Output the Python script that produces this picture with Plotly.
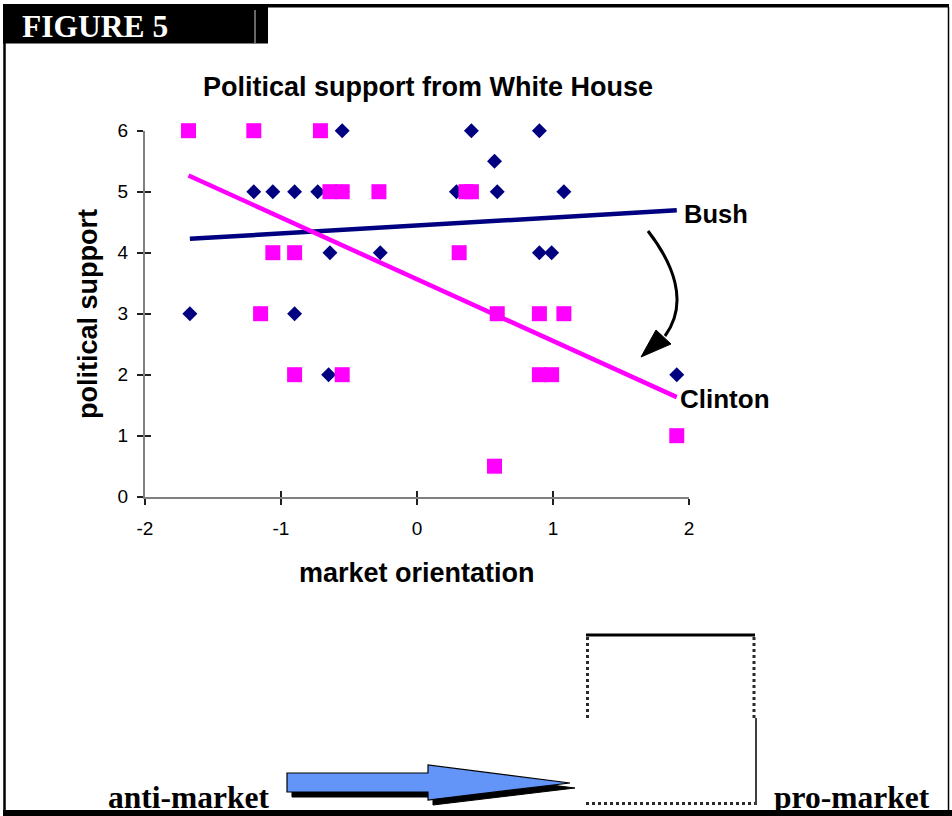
import numpy as np
import plotly.graph_objects as go

W, H = 952, 816

# Market orientation (x) and political support (y) for each administration
bush_x = [-1.67, -1.20, -1.06, -0.90, -0.90, -0.73, -0.64, -0.65, -0.55, -0.27,
          0.29, 0.40, 0.57, 0.59, 0.90, 0.90, 0.99, 1.08, 1.91, -1.15, -0.55, 0.37]
bush_y = [3, 5, 5, 5, 3, 5, 4, 2, 6, 4,
          5, 6, 5.5, 5, 6, 4, 4, 5, 2, 3, 5, 5]

clinton_x = [-1.68, -1.20, -0.71, -1.06, -0.90, -1.15, -0.90, -0.55, -0.64, -0.55,
             -0.28, 0.36, 0.40, 0.31, 0.59, 0.90, 1.08, 0.90, 0.99, 1.91, 0.57]
clinton_y = [6, 6, 6, 4, 4, 3, 2, 2, 5, 5,
             5, 5, 5, 4, 3, 3, 3, 2, 2, 1, 0.5]

x_ticks = [-2, -1, 0, 1, 2]
x_tick_text = ["-2", "-1", "0", "1", "2"]
y_ticks = [0, 1, 2, 3, 4, 5, 6]
y_tick_text = ["0", "1", "2", "3", "4", "5", "6"]

NAVY = "#000080"
MAGENTA = "#FF00FF"
SANS = "Liberation Sans, Arial, sans-serif"
SERIF = "Liberation Serif, Times New Roman, serif"


def fx(p):
    """pixel column -> paper x"""
    return p / W


def fy(p):
    """pixel row -> paper y"""
    return 1 - p / H


def trend(x, y):
    slope, icpt = np.polyfit(x, y, 1)
    xs = np.array([min(x), max(x)])
    return xs, slope * xs + icpt


fig = go.Figure()

# scatter points
fig.add_trace(go.Scatter(
    x=bush_x, y=bush_y, mode="markers", name="Bush",
    marker=dict(symbol="diamond", size=11.5, color=NAVY, line=dict(width=0)),
    cliponaxis=False, showlegend=False))
fig.add_trace(go.Scatter(
    x=clinton_x, y=clinton_y, mode="markers", name="Clinton",
    marker=dict(symbol="square", size=15, color=MAGENTA, line=dict(width=0)),
    cliponaxis=False, showlegend=False))

# linear trend lines
bx, by = trend(bush_x, bush_y)
cx, cy = trend(clinton_x, clinton_y)
fig.add_trace(go.Scatter(x=bx, y=by, mode="lines", line=dict(color=NAVY, width=4.5),
                         showlegend=False, hoverinfo="skip"))
fig.add_trace(go.Scatter(x=cx, y=cy, mode="lines", line=dict(color=MAGENTA, width=4.5),
                         showlegend=False, hoverinfo="skip"))

# empty trace so the overlay axes (inner tick halves) are drawn
fig.add_trace(go.Scatter(x=[None], y=[None], xaxis="x2", yaxis="y2",
                         showlegend=False, hoverinfo="skip"))

plot_l, plot_r, plot_t, plot_b = 145, 689, 130.7, 496.7
xdom = [fx(plot_l), fx(plot_r)]
ydom = [fy(plot_b), fy(plot_t)]

axis_common = dict(showgrid=False, zeroline=False, linecolor="#808080", linewidth=2,
                   tickcolor="#202020", tickwidth=1.5, ticklen=6, automargin=False,
                   tickfont=dict(family=SANS, size=19, color="black"))
overlay_common = dict(showline=False, showticklabels=False, showgrid=False,
                      zeroline=False, tickcolor="#202020", tickwidth=1.5, ticklen=6,
                      automargin=False, ticks="inside")

fig.update_layout(
    template="none",
    width=W, height=H,
    margin=dict(l=0, r=0, t=0, b=0, pad=0, autoexpand=False),
    paper_bgcolor="white", plot_bgcolor="white",
    showlegend=False,
    xaxis=dict(domain=xdom, range=[-2, 2], tickvals=x_ticks, ticktext=x_tick_text,
               ticks="outside", showline=True, anchor="y", ticklabelstandoff=7,
               **axis_common),
    yaxis=dict(domain=ydom, range=[0, 6], tickvals=y_ticks, ticktext=y_tick_text,
               ticks="outside", showline=True, anchor="x", ticklabelstandoff=5,
               **axis_common),
    xaxis2=dict(domain=xdom, range=[-2, 2], tickvals=x_ticks, overlaying="x",
                anchor="y2", **overlay_common),
    yaxis2=dict(domain=ydom, range=[0, 6], tickvals=y_ticks, overlaying="y",
                anchor="x2", **overlay_common),
)

ann = []


def text(x, y, s, size, family=SANS, color="black", xanchor="center", angle=0):
    ann.append(dict(x=fx(x), y=fy(y), xref="paper", yref="paper", text=s,
                    showarrow=False, xanchor=xanchor, yanchor="middle", textangle=angle,
                    font=dict(family=family, size=size, color=color)))


text(428, 87, "<b>Political support from White House</b>", 27)
text(417, 573, "<b>market orientation</b>", 27)
text(88, 314, "<b>political support</b>", 27, angle=-90)
text(682, 214, "<b>Bush</b>", 25.5, xanchor="left")
text(678, 399, "<b>Clinton</b>", 26, xanchor="left")
text(20, 26, "<b>FIGURE 5</b>", 31.5, family=SERIF, color="white", xanchor="left")
text(188, 797, "<b>anti-market</b>", 31.5, family=SERIF)
text(852, 797, "<b>pro-market</b>", 31.5, family=SERIF)
fig.update_layout(annotations=ann)

shapes = []


def rect(x0, y0, x1, y1, color, line_color=None, lw=0):
    shapes.append(dict(type="rect", xref="paper", yref="paper",
                       x0=fx(x0), x1=fx(x1), y0=fy(y1), y1=fy(y0),
                       fillcolor=color, line=dict(width=lw, color=line_color or color),
                       layer="below"))


def seg(x0, y0, x1, y1, color, lw, dash="solid"):
    shapes.append(dict(type="line", xref="paper", yref="paper",
                       x0=fx(x0), y0=fy(y0), x1=fx(x1), y1=fy(y1),
                       line=dict(color=color, width=lw, dash=dash)))


def path(pts_str, fill=None, color="black", lw=1):
    shapes.append(dict(type="path", xref="paper", yref="paper", path=pts_str,
                       fillcolor=fill if fill else "rgba(0,0,0,0)",
                       line=dict(color=color, width=lw)))


def pstr(cmds):
    out = []
    for c in cmds:
        if isinstance(c, str):
            out.append(c)
        else:
            out.append(f"{fx(c[0]):.5f},{fy(c[1]):.5f}")
    return " ".join(out)


# page frame and heading block
rect(3, 4, 268, 43.5, "black")
seg(255, 10, 255, 43, "#8a8a8a", 1.5)
rect(268, 4, 949, 7.5, "black")
seg(948.5, 7, 948.5, 812, "black", 1.5)
seg(4.5, 43, 4.5, 812, "black", 2.5)
rect(3, 810, 952, 816, "black")

# direction arrow with drop shadow
arrow = [(287, 773), (428, 773), (428, 765), (570, 783), (428, 800), (428, 792), (287, 792)]
shadow = [(x + 5, y + 5) for x, y in arrow]
path(pstr(["M"] + [shadow[0]] + sum([["L", p] for p in shadow[1:]], []) + ["Z"]),
     fill="black", color="black", lw=1)
path(pstr(["M"] + [arrow[0]] + sum([["L", p] for p in arrow[1:]], []) + ["Z"]),
     fill="#6394F8", color="black", lw=1.2)

# curved arrow from the Bush line toward the Clinton line
path(pstr(["M", (648, 231), "C", (672, 262), (690, 302), (665, 336)]), color="black", lw=3)
path(pstr(["M", (641, 357), "L", (656, 330), "L", (671, 344), "Z"]),
     fill="black", color="black", lw=1)

# outlined box at lower right
seg(586, 635, 755, 635, "black", 3)
seg(587.5, 637, 587.5, 718, "#2a2a2a", 3, "dot")
seg(754, 637, 754, 718, "#2a2a2a", 3, "dot")
seg(756, 718, 756, 805, "black", 1.5)
seg(586, 803.5, 755, 803.5, "#2a2a2a", 3, "dot")

fig.update_layout(shapes=shapes)

fig.write_html(
    "out.html",
    post_script="document.body.style.margin='0';document.body.style.overflow='hidden';",
)
